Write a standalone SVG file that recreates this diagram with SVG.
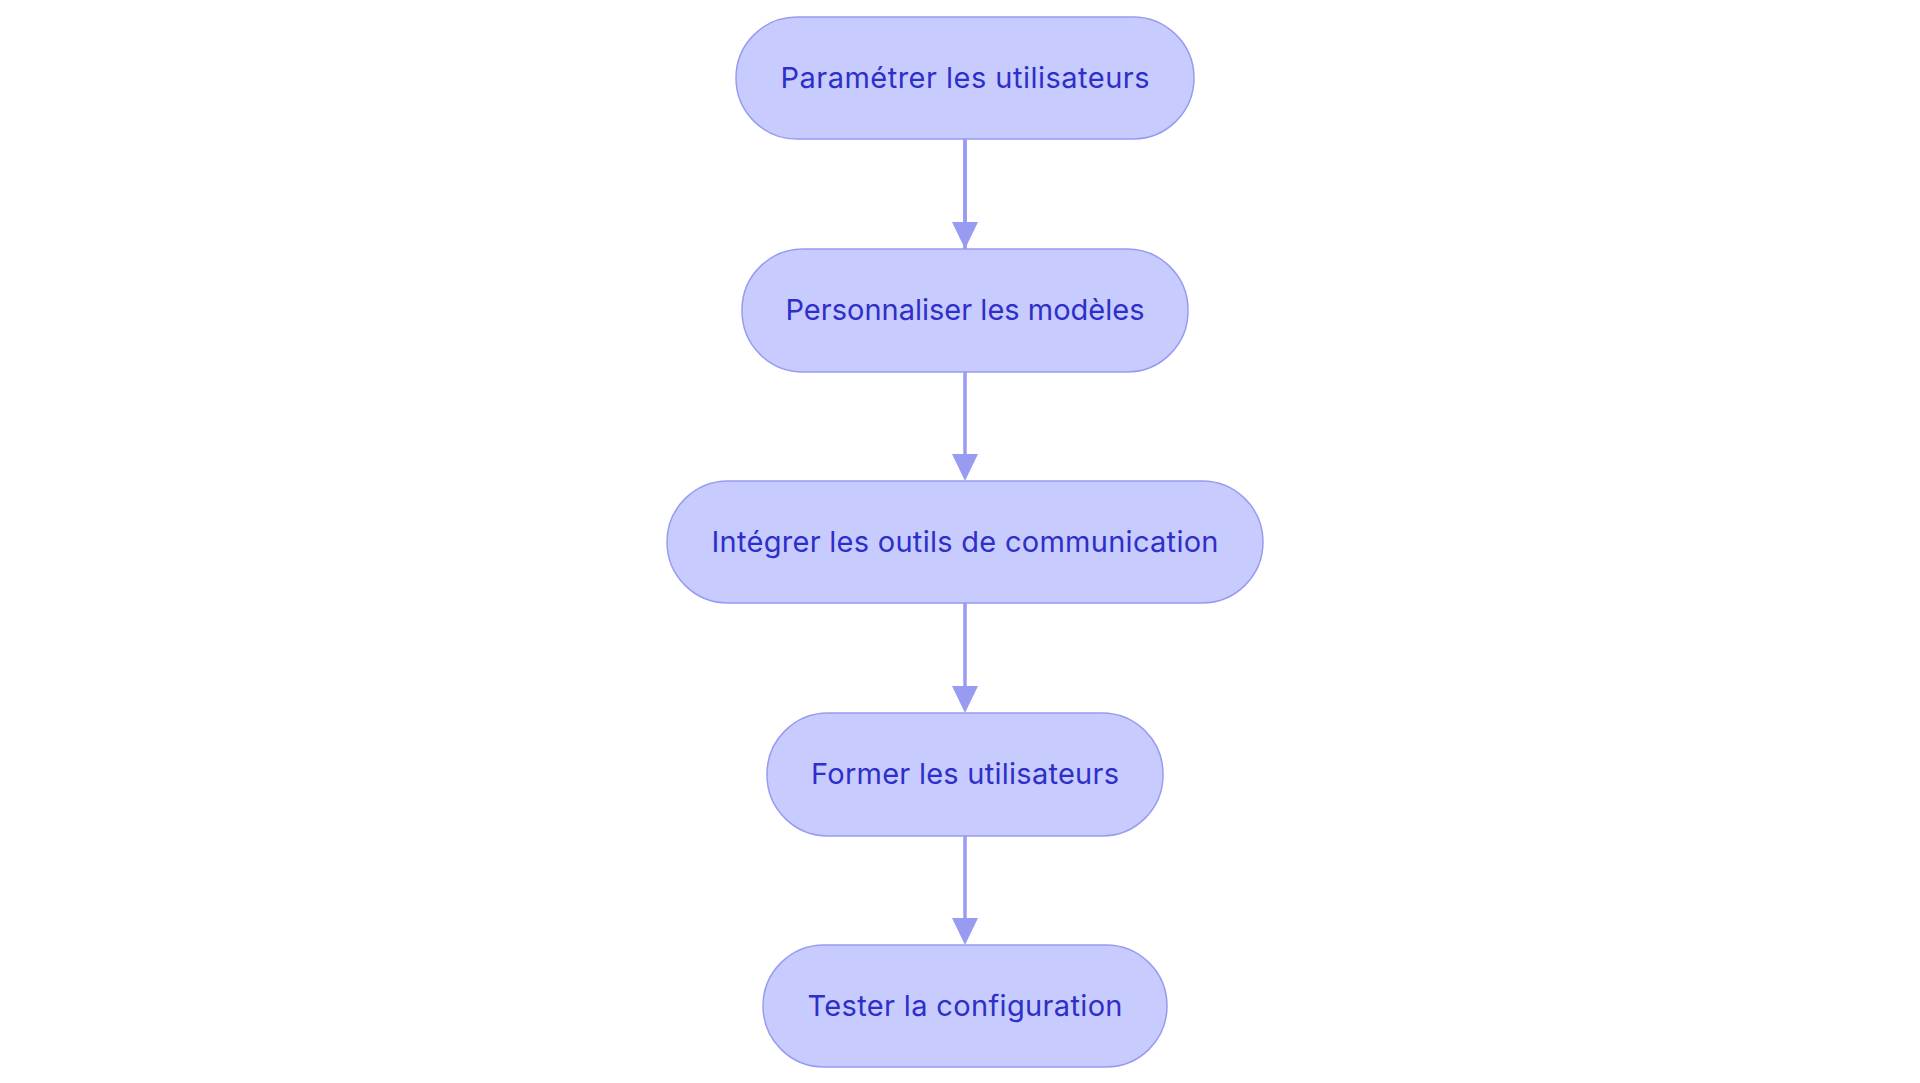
<svg xmlns="http://www.w3.org/2000/svg" width="1920" height="1083" viewBox="0 0 1920 1083">
<style>
.n rect{fill:#c8cbfd;stroke:#979cf0;stroke-width:1.5}
.n text{font-family:Inter,"Noto Sans",sans-serif;font-size:29px;fill:#2d2fc8;text-anchor:middle;dominant-baseline:central}
.c line{stroke:#979cf0;stroke-width:3.5}
</style>
<defs><marker id="a" viewBox="0 0 10 10" refX="10" refY="5" markerWidth="7" markerHeight="7" markerUnits="userSpaceOnUse" orient="auto"><path d="M0,0L10,5L0,10z" fill="#979cf0"/></marker></defs>
<rect width="1920" height="1083" fill="#fff"/>
<g class="c">
<line x1="965" y1="139" x2="965" y2="249" marker-end="url(#a)" style="marker-end:none"/>
<path d="M952,222h26l-13,27z M952,454h26l-13,27z M952,686h26l-13,27z M952,918h26l-13,27z" fill="#979cf0"/>
<line x1="965" y1="372" x2="965" y2="225"/>
<line x1="965" y1="372" x2="965" y2="457"/>
<line x1="965" y1="603" x2="965" y2="689"/>
<line x1="965" y1="836" x2="965" y2="921"/>
<line x1="965" y1="139" x2="965" y2="225"/>
</g>
<g id="n1" class="n"><rect x="736" y="17" width="458" height="122" rx="61"/><text x="965" y="77" textLength="369">Paramétrer les utilisateurs</text></g>
<g id="n2" class="n"><rect x="742" y="249" width="446" height="123" rx="61"/><text x="965" y="309" textLength="359">Personnaliser les modèles</text></g>
<g id="n3" class="n"><rect x="667" y="481" width="596" height="122" rx="61"/><text x="965" y="541" textLength="507">Intégrer les outils de communication</text></g>
<g id="n4" class="n"><rect x="767" y="713" width="396" height="123" rx="61"/><text x="965" y="773" textLength="308">Former les utilisateurs</text></g>
<g id="n5" class="n"><rect x="763" y="945" width="404" height="122" rx="61"/><text x="965" y="1005" textLength="315">Tester la configuration</text></g>
</svg>
